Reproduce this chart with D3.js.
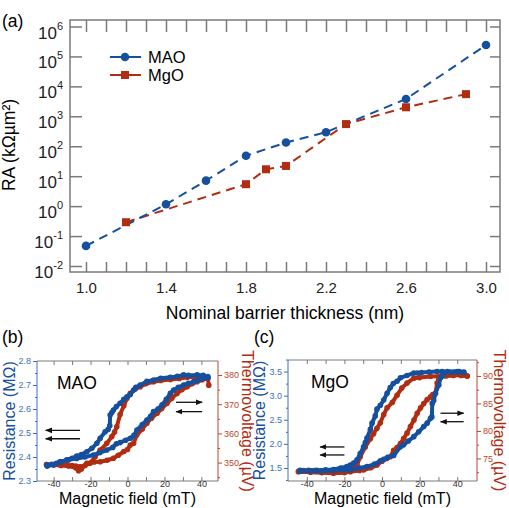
<!DOCTYPE html>
<html>
<head>
<meta charset="utf-8">
<script src="https://cdn.jsdelivr.net/npm/d3@7"></script>
<style>
  body { margin: 0; background: #fff; }
  text { font-family: "Liberation Sans", Arial, sans-serif; }
</style>
</head>
<body>
<svg id="fig" width="509" height="508"></svg>
<script>
// ---- (a) RA vs barrier thickness ----
const thickMAO = [1.0, 1.4, 1.6, 1.8, 2.0, 2.2, 2.6, 3.0];
const raMAO = [0.047, 1.15, 7.1, 48, 133, 295, 3800, 240000];
const thickMgO = [1.2, 1.8, 1.9, 2.0, 2.3, 2.6, 2.9];
const raMgO = [0.29, 5.4, 17, 22, 550, 2000, 5500];
const raTicks = [1e-2, 1e-1, 1e0, 1e1, 1e2, 1e3, 1e4, 1e5, 1e6];
const thickTicks = [1.0, 1.1, 1.2, 1.3, 1.4, 1.5, 1.6, 1.7, 1.8, 1.9, 2.0, 2.1, 2.2, 2.3, 2.4, 2.5, 2.6, 2.7, 2.8, 2.9, 3.0];
const thickTickLabels = [1.0, 1.4, 1.8, 2.2, 2.6, 3.0];

// ---- (b) MAO loop: resistance (MOhm) and thermovoltage (uV) vs field (mT) ----
const fieldB_downR = [43.5, 41, 37.7, 33, 30.4, 27, 23.2, 18, 14.1, 10.5, 6.9, 4.5, 3.3, 1.5, -0.3, -2, -4, -6, -7.6, -8.5, -9.4, -9.6, -10.5, -12.1, -14.8, -16.6, -19.3, -22, -25, -27.5, -30, -32.9, -36, -38.4, -41, -43.5];
const resB_down = [2.73, 2.74, 2.742, 2.74, 2.742, 2.736, 2.732, 2.728, 2.721, 2.715, 2.70, 2.69, 2.679, 2.66, 2.651, 2.64, 2.624, 2.61, 2.596, 2.585, 2.575, 2.53, 2.515, 2.505, 2.478, 2.457, 2.436, 2.422, 2.41, 2.404, 2.395, 2.388, 2.38, 2.374, 2.37, 2.366];
const fieldB_upR = [-43.5, -40, -36.6, -32, -27.5, -23, -18.5, -15, -11.2, -8, -6, -4, -1, 1.5, 3.5, 5.1, 8, 10.5, 12.5, 14.1, 16.5, 18.7, 21, 23.2, 25, 27.5, 30.4, 33, 35.9, 38.5, 41.3, 43.5];
const resB_up = [2.362, 2.368, 2.38, 2.388, 2.394, 2.40, 2.408, 2.418, 2.429, 2.44, 2.455, 2.46, 2.47, 2.478, 2.49, 2.5125, 2.535, 2.554, 2.57, 2.589, 2.60, 2.617, 2.64, 2.665, 2.679, 2.69, 2.70, 2.707, 2.714, 2.72, 2.728, 2.735];
const fieldB_downV = [43.5, 39.5, 36, 32.3, 28, 23.2, 18, 14.1, 10, 6.9, 4.2, 1.5, -0.3, -2, -4, -5.8, -7, -8.5, -11.2, -14.8, -17.5, -20.3, -23, -25.7, -28, -30, -33, -36, -40, -43.8];
const voltB_down = [379, 379.4, 379.3, 379.2, 378.8, 378.5, 378.1, 377.7, 377, 376, 375.2, 373.7, 372, 369.5, 366.5, 362.3, 360.5, 358.9, 356.6, 354.3, 352, 349.8, 349, 348.6, 348.8, 349, 349.2, 349.2, 349.2, 349.3];
const fieldB_upV = [-43.8, -40, -36, -32, -28, -26.5, -25, -22, -18, -14.8, -11, -7.6, -5, -2, 0, 1.5, 3.3, 5.1, 8, 10.5, 13, 16, 18.5, 21.4, 24, 26.8, 29.5, 32.3, 35, 37.7, 40.5, 43.5, 44];
const voltB_up = [349.3, 349.2, 349, 348.8, 348.2, 347.2, 347.8, 349.8, 350.2, 350.3, 350.8, 351.5, 352.5, 353.8, 354.5, 356, 356.6, 359.5, 361.5, 363.5, 365.2, 366.9, 368.5, 370.3, 372, 373.7, 375, 376, 377, 377.7, 378.4, 378.9, 376.5];

// ---- (c) MgO loop ----
const fieldC_downR = [43.5, 40, 36, 32, 29.3, 25, 21, 18.7, 16.9, 13.3, 9.8, 8, 6, 4.4, 2.7, 0.9, -0.9, -2.7, -3.6, -5.3, -6.2, -8, -8.9, -9.8, -11.6, -13.3, -15.1, -16.9, -18.7, -22, -25.8, -30, -34.7, -39, -43.6];
const resC_down = [3.48, 3.5, 3.49, 3.5, 3.5, 3.49, 3.48, 3.47, 3.47, 3.42, 3.37, 3.3, 3.25, 3.17, 3.05, 2.91, 2.8, 2.72, 2.58, 2.43, 2.3, 2.12, 2.03, 1.94, 1.8, 1.67, 1.6, 1.56, 1.53, 1.5, 1.47, 1.46, 1.45, 1.45, 1.45];
const fieldC_upR = [-43.6, -38, -32, -26, -20, -16.9, -12, -8, -4, -0.9, 0.9, 3, 6.2, 9.8, 11.5, 14, 16.9, 19.5, 22.2, 24, 25.8, 26.5, 26.7, 27.5, 28.4, 30.2, 31.1, 32.5, 34.7, 38, 41, 43.5];
const resC_up = [1.43, 1.44, 1.44, 1.45, 1.46, 1.465, 1.5, 1.53, 1.58, 1.65, 1.68, 1.72, 1.76, 1.94, 1.98, 2.06, 2.15, 2.25, 2.36, 2.43, 2.53, 2.56, 2.84, 2.9, 3.05, 3.22, 3.37, 3.43, 3.5, 3.49, 3.5, 3.49];
const fieldC_downV = [45.3, 43.5, 38, 32, 25.8, 20, 16.9, 13.3, 10.5, 8, 5.5, 2.7, 0.9, -0.9, -2.7, -4.5, -6.2, -8.9, -11.6, -13.3, -15, -18, -24, -30, -36, -41.8, -44];
const voltC_down = [90, 90.2, 90.1, 90, 89.9, 89.7, 89.6, 88.7, 87.8, 86.5, 85.2, 84.2, 83, 81.5, 80.5, 79.5, 78.6, 77.1, 75.3, 73.8, 73.2, 73, 72.9, 72.8, 72.8, 72.8, 72.7];
const fieldC_upV = [-44.5, -38, -32, -25.8, -20, -16.9, -12, -9.8, -6, -2.7, 0, 2.5, 4.4, 6.2, 8, 9.8, 11.5, 13.3, 15.1, 17, 18.7, 20.5, 22.2, 24, 25.8, 27, 28.4, 29.3, 30.2, 31.1, 34, 38.2, 42, 45.3];
const voltC_up = [72.6, 72.5, 72.4, 72.3, 72.4, 72.6, 72.8, 72.9, 73.3, 73.8, 74.5, 75, 75.3, 76.5, 77, 77.7, 78.6, 79.6, 80.8, 82, 83.2, 84.2, 85, 85.7, 86.2, 86.6, 86.8, 88.7, 89.5, 89.9, 90, 90.2, 90.1, 90];

// sweep arrows (field start, field end, resistance level)
const arrowsB = [[-25.7, -44.3, 2.511], [-25.7, -44.3, 2.476], [26.3, 40.4, 2.628], [40.4, 26.3, 2.589]];
const arrowsC = [[-20, -32.9, 1.936], [-20, -32.9, 1.77], [31.1, 43.4, 2.636], [43.4, 31.1, 2.46]];

const BLUE = "#15509e", RED = "#b02d12";
const BLUE_T = "#3f70b6", RED_T = "#b8482e";
const GREY = "#7a7a7a";

const svg = d3.select("#fig");
const zip = (a, b) => a.map((d, i) => [d, b[i]]);

svg.append("defs").append("marker")
    .attr("id", "arr")
    .attr("viewBox", "0 0 10 10")
    .attr("refX", 9).attr("refY", 5)
    .attr("markerWidth", 7).attr("markerHeight", 7)
    .attr("markerUnits", "userSpaceOnUse")
    .attr("orient", "auto")
  .append("path")
    .attr("d", "M0,1 L10,5 L0,9 Z")
    .attr("fill", "#111");

// ================= panel (a) =================
const xA = d3.scaleLinear().domain([0.92, 3.07]).range([70, 500]);
const yA = d3.scaleLog().domain([Math.pow(10, -2.2), Math.pow(10, 6.217)]).range([272, 20]);

const gA = svg.append("g");

// frame
gA.append("rect")
    .attr("x", 70).attr("y", 20).attr("width", 430).attr("height", 252)
    .attr("fill", "none").attr("stroke", GREY).attr("stroke-width", 1.5);

const isLab = d => thickTickLabels.some(v => Math.abs(v - d) < 1e-6);

gA.append("g")
    .attr("transform", "translate(0,272)")
    .call(d3.axisBottom(xA).tickValues(thickTicks).tickSize(-10).tickPadding(10)
        .tickFormat(d => isLab(d) ? d3.format(".1f")(d) : ""))
    .call(g => g.select(".domain").remove())
    .call(g => g.selectAll(".tick line").attr("stroke", GREY).attr("stroke-width", 1.5))
    .call(g => g.selectAll(".tick text").attr("font-size", 15).attr("fill", "#222"));

gA.append("g")
    .attr("transform", "translate(0,20)")
    .call(d3.axisTop(xA).tickValues(thickTicks).tickSize(-12).tickFormat(""))
    .call(g => g.select(".domain").remove())
    .call(g => g.selectAll(".tick line").attr("stroke", GREY).attr("stroke-width", 1.5));

gA.append("g")
    .attr("transform", "translate(70,0)")
    .call(d3.axisLeft(yA).tickValues(raTicks).tickSize(-12).tickPadding(7))
    .call(g => g.select(".domain").remove())
    .call(g => g.selectAll(".tick line").attr("stroke", GREY).attr("stroke-width", 1.5))
    .call(g => g.selectAll(".tick text")
        .attr("dy", "0.68em").attr("font-size", 17).attr("fill", "#222")
        .text(null)
        .each(function(d) {
            const t = d3.select(this);
            t.append("tspan").text("10");
            t.append("tspan").attr("dy", -9).attr("font-size", 11).text(Math.round(Math.log10(d)));
        }));

gA.append("g")
    .attr("transform", "translate(500,0)")
    .call(d3.axisRight(yA).tickValues(raTicks).tickSize(-10).tickFormat(""))
    .call(g => g.select(".domain").remove())
    .call(g => g.selectAll(".tick line").attr("stroke", GREY).attr("stroke-width", 1.5));

// dashed series lines
const lineA = d3.line().x(d => xA(d[0])).y(d => yA(d[1]));
gA.append("path").datum(zip(thickMgO, raMgO))
    .attr("d", lineA).attr("fill", "none").attr("stroke", RED)
    .attr("stroke-width", 2).attr("stroke-dasharray", "9,6");
gA.append("path").datum(zip(thickMAO, raMAO))
    .attr("d", lineA).attr("fill", "none").attr("stroke", BLUE)
    .attr("stroke-width", 2).attr("stroke-dasharray", "9,6");

gA.selectAll(".sq").data(zip(thickMgO, raMgO)).enter().append("rect")
    .attr("x", d => xA(d[0]) - 4).attr("y", d => yA(d[1]) - 4)
    .attr("width", 8).attr("height", 8).attr("fill", RED);
gA.selectAll(".dot").data(zip(thickMAO, raMAO)).enter().append("circle")
    .attr("cx", d => xA(d[0])).attr("cy", d => yA(d[1])).attr("r", 4.3).attr("fill", BLUE);

// legend
const leg = gA.append("g");
leg.append("line").attr("x1", 110).attr("x2", 141).attr("y1", 57).attr("y2", 57).attr("stroke", BLUE).attr("stroke-width", 2);
leg.append("circle").attr("cx", 125).attr("cy", 57).attr("r", 4.3).attr("fill", BLUE);
leg.append("text").attr("x", 148).attr("y", 62.5).attr("font-size", 16.5).text("MAO");
leg.append("line").attr("x1", 110).attr("x2", 141).attr("y1", 75).attr("y2", 75).attr("stroke", RED).attr("stroke-width", 2);
leg.append("rect").attr("x", 121).attr("y", 71).attr("width", 8).attr("height", 8).attr("fill", RED);
leg.append("text").attr("x", 148).attr("y", 81).attr("font-size", 16.5).text("MgO");

svg.append("text").attr("x", 2).attr("y", 27).attr("font-size", 17.5).text("(a)");
svg.append("text").attr("transform", "translate(15,145) rotate(-90)")
    .attr("text-anchor", "middle").attr("font-size", 17.5).text("RA (kΩµm²)");
svg.append("text").attr("x", 285).attr("y", 319)
    .attr("text-anchor", "middle").attr("font-size", 17.5).text("Nominal barrier thickness (nm)");

// ================= loop panels =================
function loopPanel(o) {
    const g = svg.append("g");
    const [x0, x1] = o.x.range(), [y0, y1] = o.yR.range();

    // top / bottom axes
    g.append("g").attr("transform", `translate(0,${y0})`)
        .call(d3.axisBottom(o.x).tickValues(d3.range(-40, 41, 10)).tickSize(-4).tickPadding(0)
            .tickFormat(d => d % 20 === 0 ? String(d) : ""))
        .call(a => a.select(".domain").attr("d", `M${x0},0H${x1}`).attr("stroke", GREY))
        .call(a => a.selectAll(".tick line").attr("stroke", GREY))
        .call(a => a.selectAll(".tick text").attr("font-size", 9).attr("fill", "#333"));
    g.append("g").attr("transform", `translate(0,${y1})`)
        .call(d3.axisTop(o.x).tickValues(d3.range(-40, 41, 10)).tickSize(-4).tickFormat(""))
        .call(a => a.select(".domain").attr("d", `M${x0},0H${x1}`).attr("stroke", GREY))
        .call(a => a.selectAll(".tick line").attr("stroke", GREY));

    // left (resistance) axis
    g.append("g").attr("transform", `translate(${x0},0)`)
        .call(d3.axisLeft(o.yR).tickValues(o.rMinor).tickSize(2).tickFormat(""))
        .call(a => a.select(".domain").remove())
        .call(a => a.selectAll(".tick line").attr("stroke", BLUE_T));
    g.append("g").attr("transform", `translate(${x0},0)`)
        .call(d3.axisLeft(o.yR).tickValues(o.rTicks).tickSize(4).tickPadding(2).tickFormat(d3.format(".1f")))
        .call(a => a.select(".domain").attr("d", `M0,${y0}V${y1}`).attr("stroke", BLUE_T))
        .call(a => a.selectAll(".tick line").attr("stroke", BLUE_T))
        .call(a => a.selectAll(".tick text").attr("font-size", 9).attr("fill", BLUE_T));

    // right (thermovoltage) axis
    g.append("g").attr("transform", `translate(${x1},0)`)
        .call(d3.axisRight(o.yV).tickValues(o.vMinor).tickSize(2).tickFormat(""))
        .call(a => a.select(".domain").remove())
        .call(a => a.selectAll(".tick line").attr("stroke", RED_T));
    g.append("g").attr("transform", `translate(${x1},0)`)
        .call(d3.axisRight(o.yV).tickValues(o.vTicks).tickSize(4).tickPadding(2).tickFormat(d3.format("d")))
        .call(a => a.select(".domain").attr("d", `M0,${y0}V${y1}`).attr("stroke", RED_T))
        .call(a => a.selectAll(".tick line").attr("stroke", RED_T))
        .call(a => a.selectAll(".tick text").attr("font-size", 9).attr("fill", RED_T));

    // data: thermovoltage first, resistance on top
    const drawBranch = (pts, y, col) => {
        g.append("path").datum(pts)
            .attr("d", d3.line().x(d => o.x(d[0])).y(d => y(d[1])))
            .attr("fill", "none").attr("stroke", col).attr("stroke-width", 4)
            .attr("stroke-linejoin", "round");
        g.append("g").selectAll("circle").data(pts).enter().append("circle")
            .attr("cx", d => o.x(d[0])).attr("cy", d => y(d[1])).attr("r", 2.8).attr("fill", col);
    };
    o.vBranches.forEach(b => drawBranch(b, o.yV, RED));
    o.rBranches.forEach(b => drawBranch(b, o.yR, BLUE));

    // sweep arrows
    g.selectAll(".arrow").data(o.arrows).enter().append("line")
        .attr("x1", d => o.x(d[0])).attr("x2", d => o.x(d[1]))
        .attr("y1", d => o.yR(d[2])).attr("y2", d => o.yR(d[2]))
        .attr("stroke", "#111").attr("stroke-width", 1.3).attr("marker-end", "url(#arr)");

    // texts
    g.append("text").attr("x", o.tag[0]).attr("y", o.tag[1]).attr("font-size", 17.5).text(o.tagText);
    g.append("text").attr("x", o.name[0]).attr("y", o.name[1]).attr("font-size", 17.5).text(o.nameText);
    g.append("text").attr("x", (x0 + x1) / 2).attr("y", 504).attr("text-anchor", "middle")
        .attr("font-size", 16).text("Magnetic field (mT)");
    g.append("text").attr("transform", `translate(${x0 - o.rOff},${(y0 + y1) / 2}) rotate(-90)`)
        .attr("text-anchor", "middle").attr("font-size", 16).attr("fill", BLUE).text("Resistance (MΩ)");
    g.append("text").attr("transform", `translate(${x1 + o.vOff},${(y0 + y1) / 2}) rotate(90)`)
        .attr("text-anchor", "middle").attr("font-size", 16).attr("fill", RED).text("Thermovoltage (µV)");
}

loopPanel({
    x: d3.scaleLinear().domain([-49, 49]).range([37, 218]),
    yR: d3.scaleLinear().domain([2.3, 2.8]).range([481, 361]),
    yV: d3.scaleLinear().domain([343.7, 384.8]).range([481, 361]),
    rTicks: [2.3, 2.4, 2.5, 2.6, 2.7, 2.8],
    rMinor: [2.35, 2.45, 2.55, 2.65, 2.75],
    vTicks: [350, 360, 370, 380],
    vMinor: [345, 355, 365, 375],
    rBranches: [zip(fieldB_downR, resB_down), zip(fieldB_upR, resB_up)],
    vBranches: [zip(fieldB_downV, voltB_down), zip(fieldB_upV, voltB_up)],
    arrows: arrowsB,
    tag: [2, 343], tagText: "(b)",
    name: [57, 389], nameText: "MAO",
    rOff: 22, vOff: 24
});

loopPanel({
    x: d3.scaleLinear().domain([-50, 50.5]).range([288, 477]),
    yR: d3.scaleLinear().domain([1.23, 3.74]).range([481, 360]),
    yV: d3.scaleLinear().domain([70.9, 92.9]).range([481, 360]),
    rTicks: [1.5, 2.0, 2.5, 3.0, 3.5],
    rMinor: [1.25, 1.75, 2.25, 2.75, 3.25, 3.75],
    vTicks: [75, 80, 85, 90],
    vMinor: [72.5, 77.5, 82.5, 87.5, 92.5],
    rBranches: [zip(fieldC_downR, resC_down), zip(fieldC_upR, resC_up)],
    vBranches: [zip(fieldC_downV, voltC_down), zip(fieldC_upV, voltC_up)],
    arrows: arrowsC,
    tag: [254, 343], tagText: "(c)",
    name: [311, 388], nameText: "MgO",
    rOff: 23, vOff: 17
});
</script>
</body>
</html>
